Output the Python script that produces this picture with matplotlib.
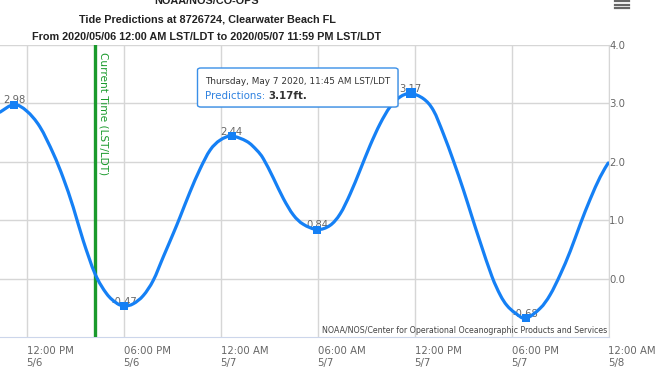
import matplotlib
matplotlib.use('Agg')
import matplotlib.pyplot as plt
import matplotlib.dates as mdates
import matplotlib.transforms as mtransforms
from matplotlib.patches import FancyBboxPatch, PathPatch
from matplotlib.path import Path
import pandas as pd

# ---- data ----
times = ['2020-05-06 10:21', '2020-05-06 11:13', '2020-05-06 12:00', '2020-05-06 12:49',
         '2020-05-06 13:39', '2020-05-06 14:16', '2020-05-06 14:53', '2020-05-06 15:30',
         '2020-05-06 16:14', '2020-05-06 16:57', '2020-05-06 17:34', '2020-05-06 18:03',
         '2020-05-06 18:36', '2020-05-06 19:13', '2020-05-06 19:50', '2020-05-06 20:27',
         '2020-05-06 21:04', '2020-05-06 21:29', '2020-05-06 22:06', '2020-05-06 22:44',
         '2020-05-06 23:21', '2020-05-06 23:58', '2020-05-07 00:41', '2020-05-07 01:37',
         '2020-05-07 02:14', '2020-05-07 02:39', '2020-05-07 03:16', '2020-05-07 03:53',
         '2020-05-07 04:30', '2020-05-07 05:07', '2020-05-07 05:59', '2020-05-07 06:46',
         '2020-05-07 07:24', '2020-05-07 08:01', '2020-05-07 08:38', '2020-05-07 09:15',
         '2020-05-07 09:52', '2020-05-07 10:29', '2020-05-07 11:06', '2020-05-07 11:45',
         '2020-05-07 12:33', '2020-05-07 13:10', '2020-05-07 13:47', '2020-05-07 14:24',
         '2020-05-07 15:02', '2020-05-07 15:33', '2020-05-07 16:04', '2020-05-07 16:47',
         '2020-05-07 17:18', '2020-05-07 17:43', '2020-05-07 18:14', '2020-05-07 18:53',
         '2020-05-07 19:46', '2020-05-07 20:23', '2020-05-07 21:01', '2020-05-07 21:38',
         '2020-05-07 22:15', '2020-05-07 22:52', '2020-05-07 23:29', '2020-05-07 23:59']
heights = [2.85, 2.98, 2.87, 2.60,
           2.14, 1.72, 1.22, 0.65,
           0.08, -0.26, -0.42, -0.47,
           -0.43, -0.29, -0.03, 0.37,
           0.77, 1.05, 1.48, 1.88,
           2.20, 2.37, 2.44, 2.35,
           2.20, 2.05, 1.72, 1.37,
           1.09, 0.93, 0.84, 0.91,
           1.11, 1.45, 1.86, 2.28,
           2.65, 2.94, 3.11, 3.17,
           3.08, 2.88, 2.48, 2.02,
           1.51, 1.06, 0.62, 0.04,
           -0.28, -0.46, -0.59, -0.68,
           -0.51, -0.28, 0.07, 0.47,
           0.93, 1.36, 1.74, 1.98]

extreme_times = ['2020-05-06 11:13', '2020-05-06 18:03', '2020-05-07 00:41',
                 '2020-05-07 05:59', '2020-05-07 11:45', '2020-05-07 18:53']
extreme_heights = [2.98, -0.47, 2.44, 0.84, 3.17, -0.68]
extreme_labels = ['2.98', '-0.47', '2.44', '0.84', '3.17', '-0.68']

x_ticks = ['2020-05-06 12:00', '2020-05-06 18:00', '2020-05-07 00:00', '2020-05-07 06:00',
           '2020-05-07 12:00', '2020-05-07 18:00', '2020-05-08 00:00']
x_tick_labels = ['12:00 PM\n5/6', '06:00 PM\n5/6', '12:00 AM\n5/7', '06:00 AM\n5/7',
                 '12:00 PM\n5/7', '06:00 PM\n5/7', '12:00 AM\n5/8']
y_ticks = [0.0, 1.0, 2.0, 3.0, 4.0]
y_tick_labels = ['0.0', '1.0', '2.0', '3.0', '4.0']
x_range = ['2020-05-06 10:21', '2020-05-08 00:00']
y_range = [-1.0, 4.0]
current_time = '2020-05-06 16:14'

title_lines = ['NOAA/NOS/CO-OPS',
               'Tide Predictions at 8726724, Clearwater Beach FL',
               'From 2020/05/06 12:00 AM LST/LDT to 2020/05/07 11:59 PM LST/LDT']
tooltip_line1 = 'Thursday, May 7 2020, 11:45 AM LST/LDT'
tooltip_series = 'Predictions:'
tooltip_value = '3.17ft.'
hover_index = 4
credits = 'NOAA/NOS/Center for Operational Oceanographic Products and Services'
current_label = 'Current Time (LST/LDT)'

# ---- drawing ----
W, H = 672, 372
plt.rcParams['font.family'] = ['DejaVu Sans']
fig = plt.figure(figsize=(W / 100, H / 100), dpi=100)
fig.patch.set_facecolor('white')


def fx(px):
    return px / W


def fy(py):
    return 1 - py / H


ax = fig.add_axes([0, fy(337), fx(608.5), (337 - 45) / H])
ax.set_facecolor('white')

t = pd.to_datetime(times)
et = pd.to_datetime(extreme_times)
blue = '#1580f5'

# smooth (spline-style) rendering of the series, like the original chart
xs = list(mdates.date2num(t.to_pydatetime()))
ys = list(heights)
n = len(xs)
verts = [(xs[0], ys[0])]
codes = [Path.MOVETO]
for i in range(n - 1):
    x0, y0 = (xs[i - 1], ys[i - 1]) if i > 0 else (xs[i], ys[i])
    x1, y1 = xs[i], ys[i]
    x2, y2 = xs[i + 1], ys[i + 1]
    x3, y3 = (xs[i + 2], ys[i + 2]) if i + 2 < n else (xs[i + 1], ys[i + 1])
    c1 = (x1 + (x2 - x0) / 6, y1 + (y2 - y0) / 6)
    c2 = (x2 - (x3 - x1) / 6, y2 - (y3 - y1) / 6)
    verts += [c1, c2, (x2, y2)]
    codes += [Path.CURVE4] * 3
ax.add_patch(PathPatch(Path(verts, codes), fill=False, edgecolor=blue, lw=2.3,
                       zorder=5, capstyle='round', joinstyle='round'))

ax.scatter(et, extreme_heights, marker='s', s=26, color=blue, zorder=6, linewidths=0)
ax.scatter([et[hover_index]], [extreme_heights[hover_index]], marker='s', s=55,
           color=blue, zorder=7, linewidths=0)

for tt, hh, lab in zip(et, extreme_heights, extreme_labels):
    ax.annotate(lab, (tt, hh), xytext=(0, 1.5), textcoords='offset pixels',
                ha='center', va='baseline', fontsize=7.2, color='#666666', zorder=4)

ax.set_xlim(pd.to_datetime(x_range[0]), pd.to_datetime(x_range[1]))
ax.set_ylim(*y_range)

ax.set_xticks(pd.to_datetime(x_ticks))
ax.set_xticklabels(x_tick_labels, ha='left', fontsize=7.3, color='#666666',
                   linespacing=1.3)
off = mtransforms.ScaledTranslation(3 / 100, 0, fig.dpi_scale_trans)
for lab in ax.get_xticklabels():
    lab.set_transform(lab.get_transform() + off)
ax.yaxis.tick_right()
ax.set_yticks(y_ticks)
ax.set_yticklabels(y_tick_labels, fontsize=7.3, color='#666666')
ax.tick_params(axis='both', length=0)
ax.tick_params(axis='x', pad=6.5)
ax.tick_params(axis='y', pad=0.5)

ax.grid(True, color='#d6d6d6', lw=1)
ax.set_axisbelow(True)
for s in ['top', 'left']:
    ax.spines[s].set_visible(False)
ax.spines['right'].set_color('#d6d6d6')
ax.spines['bottom'].set_color('#ccd6eb')

# current time plot line
ct = pd.to_datetime(current_time)
ax.axvline(ct, color='#1a9a2c', lw=2.4, zorder=3)
lab_off = mtransforms.ScaledTranslation(3 / 100, -7 / 100, fig.dpi_scale_trans)
ax.text(ct, y_range[1], current_label, rotation=-90, ha='left', va='top',
        color='#1a9a2c', fontsize=7.6, transform=ax.transData + lab_off, zorder=3)

# credits
fig.text(fx(607), fy(333), credits, ha='right', va='baseline', fontsize=5.7,
         color='#444444')

# title
title_font = ['Liberation Sans', 'DejaVu Sans']
for i, line in enumerate(title_lines):
    fig.text(fx(207), fy(1.5 + 18 * i), line, ha='center', va='center',
             fontsize=7.8, fontweight='bold', family=title_font, color='#222222')

# menu icon
for yy in [1.0, 4.5, 8.0]:
    fig.add_artist(plt.Line2D([fx(614.5), fx(628.5)], [fy(yy), fy(yy)],
                              color='#666666', lw=1.6, transform=fig.transFigure))

# tooltip
bx0, bx1, by0, by1 = 197.5, 398, 68, 107
shadow = FancyBboxPatch((fx(bx0 + 1), fy(by1 + 1)), fx(bx1 - bx0), (by1 - by0) / H,
                        boxstyle='round,pad=0,rounding_size=0.005',
                        transform=fig.transFigure, facecolor='#00000018',
                        edgecolor='none', zorder=9)
fig.add_artist(shadow)
box = FancyBboxPatch((fx(bx0), fy(by1)), fx(bx1 - bx0), (by1 - by0) / H,
                     boxstyle='round,pad=0,rounding_size=0.005',
                     transform=fig.transFigure, facecolor='#ffffff',
                     edgecolor='#3a8fe8', lw=1.0, zorder=10)
fig.add_artist(box)
fig.text(fx(205), fy(82), tooltip_line1, ha='left', va='center', fontsize=6.4,
         color='#333333', zorder=11)
t1 = fig.text(fx(205), fy(96), tooltip_series + ' ', ha='left', va='center',
              fontsize=7.4, color='#2f82e0', zorder=11)
fig.canvas.draw()
bb = t1.get_window_extent()
fig.text(bb.x1 / W, fy(96), tooltip_value, ha='left', va='center', fontsize=7.4,
         fontweight='bold', color='#333333', zorder=11)

fig.savefig('out.png', dpi=100, facecolor='white')
